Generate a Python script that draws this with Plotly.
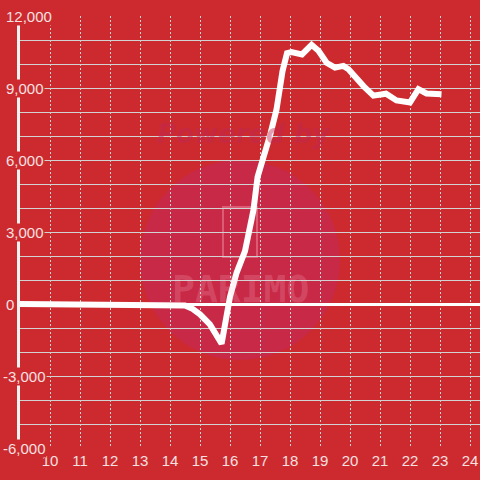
import plotly.graph_objects as go

# ---- data ----
hours = [9, 10, 11, 12, 12.75, 13.0, 13.5, 14.0, 14.5, 14.75, 15.0, 15.33, 15.6, 15.72,
         16.0, 16.22, 16.5, 16.78, 16.92, 17.1, 17.35, 17.55, 17.75, 17.9, 18.05, 18.4,
         18.72, 18.95, 19.22, 19.5, 19.78, 19.95, 20.22, 20.45, 20.78, 21.2, 21.55, 22.0,
         22.28, 22.55, 23.05]
values = [0, 0, 0, 0, 0, -60, -60, -60, -60, -200, -430, -850, -1350, -1650,
          300, 1300, 2200, 3900, 5300, 6000, 7100, 8100, 9700, 10450, 10500, 10400,
          10800, 10550, 10050, 9850, 9920, 9780, 9360, 9080, 8680, 8760, 8480, 8400,
          8950, 8770, 8740]
x_ticks = list(range(10, 25))
x_tick_labels = [str(h) for h in x_ticks]
y_label_vals = [12000, 9000, 6000, 3000, 0, -3000, -6000]
y_label_text = ["12,000", "9,000", "6,000", "3,000", "0", "-3,000", "-6,000"]

BG = "#cd2a2f"
GRID = "#d2d2d2"
LABEL = "#f4e0e0"

fig = go.Figure()
fig.add_trace(go.Scatter(x=hours, y=values, mode="lines",
                         line=dict(color="#ffffff", width=6), hoverinfo="skip",
                         showlegend=False))

L, R, T, B = 20, 0, 16, 32
W = 480 - L - R
H = 480 - T - B


def px(x):
    return (x - L) / W


def py(y):
    return (480 - B - y) / H


# watermark (decoration, paper coordinates)
fig.add_shape(type="circle", xref="paper", yref="paper",
              x0=px(140), x1=px(340), y0=py(360), y1=py(160),
              fillcolor="#c82947", line=dict(width=0), layer="below")
fig.add_shape(type="rect", xref="paper", yref="paper",
              x0=px(223), x1=px(257), y0=py(257), y1=py(207),
              line=dict(color="rgba(255,190,200,0.35)", width=2), layer="below")
fig.add_annotation(text="<b><i>Powered by</i></b>", xref="paper", yref="paper",
                   x=px(243), y=py(134), xanchor="center", yanchor="middle",
                   showarrow=False,
                   font=dict(family="DejaVu Sans", size=26, color="rgba(190,40,85,0.45)"))
fig.add_annotation(text="<b>PARIMO</b>", xref="paper", yref="paper",
                   x=px(240), y=py(289), xanchor="center", yanchor="middle",
                   showarrow=False,
                   font=dict(family="DejaVu Sans Mono", size=38, color="rgba(255,200,210,0.2)"))

# y tick labels with background boxes
for v, t in zip(y_label_vals, y_label_text):
    xp = 2 if t.startswith("-") else 5
    fig.add_annotation(text=t, xref="paper", yref="y", x=px(xp), y=v,
                       xanchor="left", yanchor="middle", showarrow=False,
                       bgcolor=BG, borderpad=0,
                       font=dict(family="Liberation Sans", size=15, color=LABEL))

fig.update_layout(
    width=480, height=480,
    margin=dict(l=L, r=R, t=T, b=B),
    paper_bgcolor=BG, plot_bgcolor=BG,
    showlegend=False,
    font=dict(family="Liberation Sans", size=15, color=LABEL),
)
fig.update_xaxes(range=[9, 24 + 1 / 3], tickvals=x_ticks, ticktext=x_tick_labels,
                 showgrid=True, gridcolor=GRID, gridwidth=1, griddash="2px,2px",
                 zeroline=False, showline=False, ticks="", ticklabelstandoff=2,
                 tickfont=dict(family="Liberation Sans", size=15, color=LABEL))
fig.update_yaxes(range=[-6000, 12000], dtick=1000, tick0=0,
                 showgrid=True, gridcolor=GRID, gridwidth=1,
                 zeroline=True, zerolinecolor="#ffffff", zerolinewidth=3,
                 showline=True, linecolor="#f2f2f2", linewidth=3,
                 showticklabels=False, ticks="")

fig.write_html("out.html", config={"displayModeBar": False},
               post_script="document.body.style.margin='0';document.body.style.padding='0';"
                           "document.body.style.background='%s';" % BG)
